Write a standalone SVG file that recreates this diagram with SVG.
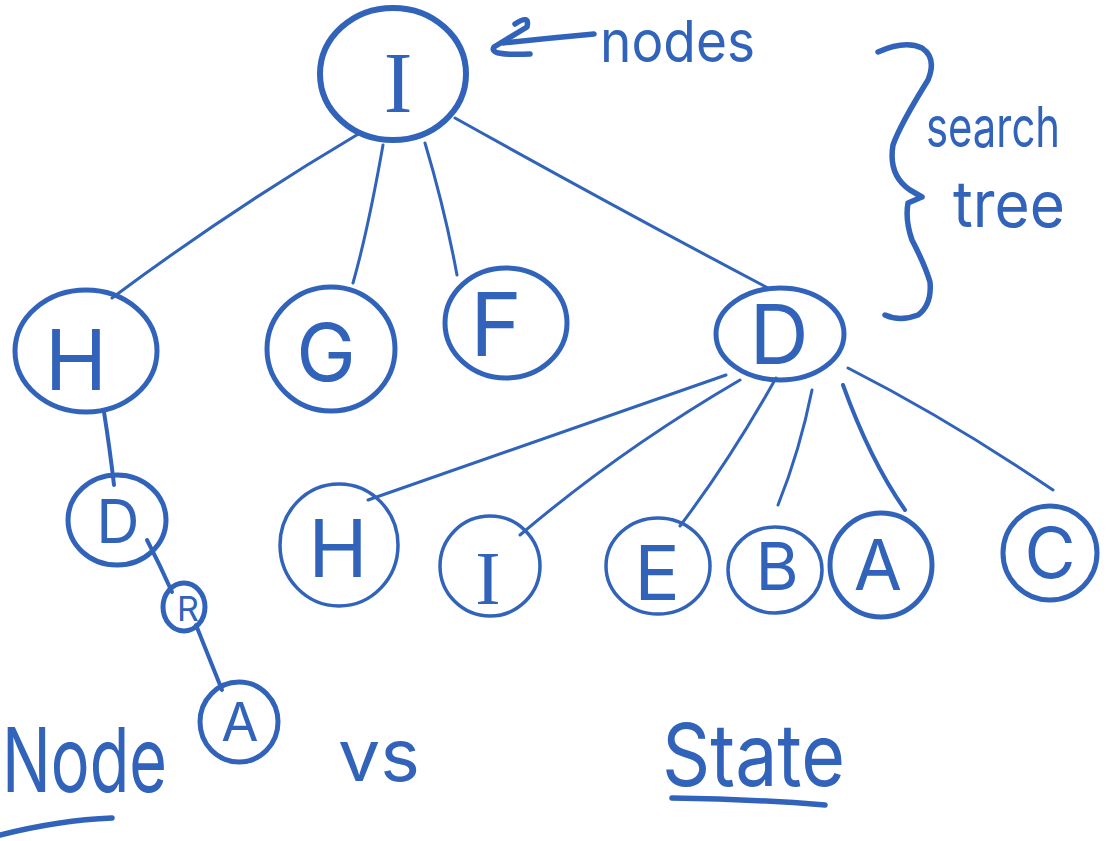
<svg xmlns="http://www.w3.org/2000/svg" width="1111" height="841" viewBox="0 0 1111 841">
  <style>
    .ring { fill: none; stroke: #3163BA; stroke-width: 5; }
    .ring-thin { fill: none; stroke: #3163BA; stroke-width: 3.5; }
    .edge { fill: none; stroke: #3163BA; stroke-width: 3; stroke-linecap: round; }
    .ink { fill: none; stroke: #3163BA; stroke-width: 5.5; stroke-linecap: round; stroke-linejoin: round; }
    .lbl { fill: #3163BA; font-family: Inter, "Liberation Sans", sans-serif; font-weight: 400; text-anchor: middle; }
    .serif { font-family: "Liberation Serif", serif; font-weight: normal; }
    .note { fill: #3163BA; font-family: Inter, "Liberation Sans", sans-serif; font-weight: 400; }
  </style>
  <rect width="1111" height="841" fill="#ffffff"/>

  <!-- connectors -->
  <g id="connectors">
    <path class="edge" d="M360,133 Q230,210 112,298"/>
    <path class="edge" d="M383,145 Q368,230 353,283"/>
    <path class="edge" d="M425,143 Q445,210 457,275"/>
    <path class="edge" d="M455,118 Q620,210 768,288"/>
    <path class="edge" d="M104,412 Q110,450 114,485" style="stroke-width:4"/>
    <path class="edge" d="M147,540 Q160,565 172,592" style="stroke-width:4"/>
    <path class="edge" d="M196,625 Q210,660 222,690" style="stroke-width:4"/>
    <path class="edge" d="M726,375 Q540,440 368,500"/>
    <path class="edge" d="M740,380 Q620,450 520,535"/>
    <path class="edge" d="M776,378 Q730,460 680,526"/>
    <path class="edge" d="M812,390 Q800,450 778,505"/>
    <path class="edge" d="M843,385 Q870,460 905,510" style="stroke-width:4"/>
    <path class="edge" d="M848,368 Q950,420 1053,490"/>
  </g>

  <!-- root -->
  <g id="node-I">
    <ellipse class="ring" cx="393" cy="74" rx="73" ry="66" style="stroke-width:6"/>
    <text class="lbl serif" x="398" y="112" font-size="86">I</text>
  </g>
  <g id="node-H">
    <ellipse class="ring" cx="86" cy="351" rx="71" ry="61"/>
    <text class="lbl" x="76" y="390" font-size="84">H</text>
  </g>
  <g id="node-G">
    <ellipse class="ring" cx="331" cy="349" rx="64" ry="62"/>
    <text class="lbl" x="326" y="381" font-size="80">G</text>
  </g>
  <g id="node-F">
    <ellipse class="ring" cx="506" cy="323" rx="61" ry="55"/>
    <text class="lbl" x="496" y="356" font-size="88">F</text>
  </g>
  <g id="node-D">
    <ellipse class="ring" cx="780" cy="334" rx="64" ry="46"/>
    <text class="lbl" x="779" y="364" font-size="82">D</text>
  </g>

  <!-- left branch -->
  <g id="node-D2">
    <ellipse class="ring" cx="117" cy="520" rx="49" ry="45"/>
    <text class="lbl" x="118" y="543" font-size="60">D</text>
  </g>
  <g id="node-R">
    <ellipse class="ring" cx="184" cy="607" rx="21" ry="24"/>
    <text class="lbl" x="188" y="621" font-size="34" font-weight="700">R</text>
  </g>
  <g id="node-A2">
    <ellipse class="ring" cx="239" cy="722" rx="39" ry="40"/>
    <text class="lbl" x="240" y="741" font-size="54">A</text>
  </g>

  <!-- children of D -->
  <g id="node-H2">
    <ellipse class="ring-thin" cx="339" cy="545" rx="59" ry="61"/>
    <text class="lbl" x="338" y="577" font-size="80">H</text>
  </g>
  <g id="node-I2">
    <ellipse class="ring-thin" cx="490" cy="566" rx="50" ry="50"/>
    <text class="lbl serif" x="488" y="604" font-size="76">I</text>
  </g>
  <g id="node-E">
    <ellipse class="ring-thin" cx="658" cy="566" rx="52" ry="48"/>
    <text class="lbl" x="657" y="600" font-size="76">E</text>
  </g>
  <g id="node-B">
    <ellipse class="ring-thin" cx="775" cy="570" rx="47" ry="43"/>
    <text class="lbl" x="777" y="590" font-size="66">B</text>
  </g>
  <g id="node-A">
    <ellipse class="ring" cx="881" cy="565" rx="51" ry="52"/>
    <text class="lbl" x="878" y="590" font-size="70">A</text>
  </g>
  <g id="node-C">
    <ellipse class="ring" cx="1050" cy="553" rx="47" ry="47"/>
    <text class="lbl" x="1050" y="578" font-size="70">C</text>
  </g>

  <!-- annotations -->
  <g id="label-nodes">
    <path class="ink" d="M515,24 Q530,14 527,27 L494,47 Q488,56 530,54"/>
    <path class="ink" d="M503,43 Q550,38 594,34"/>
    <text class="note" x="600" y="62" font-size="58" textLength="155" lengthAdjust="spacingAndGlyphs">nodes</text>
  </g>
  <g id="label-search-tree">
    <path class="ink" d="M878,52 Q905,40 922,48 Q937,58 928,80 Q900,125 893,145 Q888,175 910,190 L922,197 L908,203 Q905,220 912,240 Q925,265 930,282 Q932,305 918,315 Q900,322 885,315"/>
    <text class="note" x="926" y="147" font-size="56" textLength="134" lengthAdjust="spacingAndGlyphs">search</text>
    <text class="note" x="953" y="227" font-size="64" textLength="112" lengthAdjust="spacingAndGlyphs">tree</text>
  </g>
  <g id="label-node-vs-state">
    <text class="note" transform="translate(2,792) scale(0.72,1)" x="0" y="0" font-size="90">Node</text>
    <path class="ink" d="M0,835 Q60,820 112,818"/>
    <text class="note" x="338" y="781" font-size="72" textLength="82" lengthAdjust="spacingAndGlyphs">vs</text>
    <text class="note" x="662" y="786" font-size="86" textLength="183" lengthAdjust="spacingAndGlyphs">State</text>
    <path class="ink" d="M672,798 Q750,799 825,805"/>
  </g>
</svg>
